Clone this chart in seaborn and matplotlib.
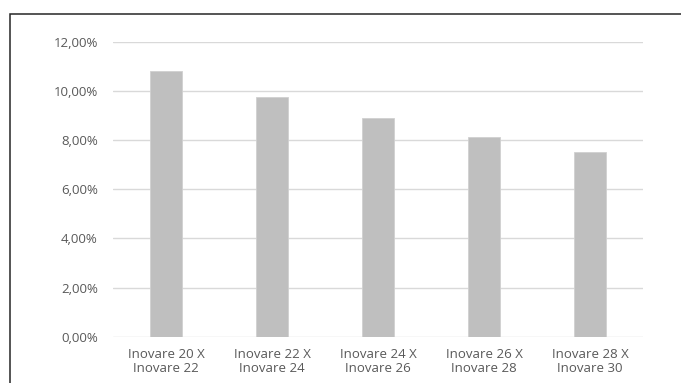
import matplotlib
matplotlib.use("Agg")
import matplotlib.pyplot as plt
import seaborn as sns
import pandas as pd
from matplotlib.patches import Rectangle
from matplotlib.ticker import FuncFormatter

categories = ["Inovare 20 X\nInovare 22", "Inovare 22 X\nInovare 24", "Inovare 24 X\nInovare 26",
              "Inovare 26 X\nInovare 28", "Inovare 28 X\nInovare 30"]
values = [0.1081, 0.0975, 0.0890, 0.0813, 0.0752]
y_ticks = [0.0, 0.02, 0.04, 0.06, 0.08, 0.10, 0.12]

sns.set_theme(style="white")
plt.rcParams["font.family"] = ["Open Sans", "DejaVu Sans"]

W, H = 681, 383
fig = plt.figure(figsize=(W / 100, H / 100), dpi=100)
ax = fig.add_axes([113 / W, 1 - 336.7 / H, 530 / W, (336.7 - 42) / H])

df = pd.DataFrame({"pair": categories, "value": values})
sns.barplot(data=df, x="pair", y="value", color="#bfbfbf", saturation=1, width=0.31,
            edgecolor="#d0d0d0", linewidth=0.6, ax=ax, zorder=3)

ax.set_ylim(0, 0.12)
ax.set_xlim(-0.5, len(categories) - 0.5)
ax.set_yticks(y_ticks)
ax.yaxis.set_major_formatter(FuncFormatter(lambda v, _: f"{v * 100:.2f}%".replace(".", ",")))
ax.grid(axis="y", color="#d9d9d9", linewidth=1.0, zorder=0)
ax.grid(axis="x", visible=False)
for s in ax.spines.values():
    s.set_visible(False)
ax.tick_params(axis="both", length=0, colors="#595959", labelsize=9.5)
ax.tick_params(axis="y", pad=11)
ax.tick_params(axis="x", pad=8)
ax.set_xlabel("")
ax.set_ylabel("")
for lbl in ax.get_xticklabels():
    lbl.set_linespacing(1.1)

# chart-area frame
fig.patches.append(Rectangle((9.5 / W, -0.05), 1.2, 1.05 - 14.5 / H, transform=fig.transFigure,
                             fill=False, edgecolor="#262626", linewidth=1.1, zorder=10))

fig.savefig("out.png", dpi=100, facecolor="white")
